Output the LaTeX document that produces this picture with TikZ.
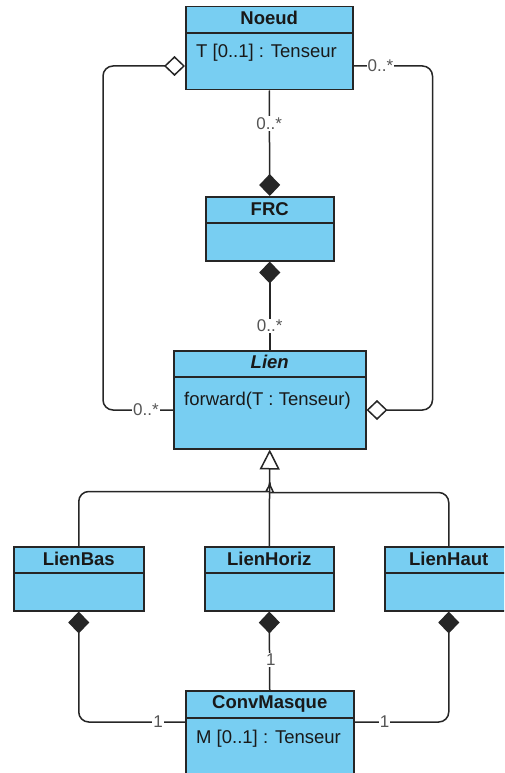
\documentclass[tikz,border=0pt]{standalone}
\usepackage{fontspec}
\setmainfont{Liberation Sans}
\usetikzlibrary{arrows.meta,calc}
\definecolor{clsfill}{RGB}{120,206,242}
\definecolor{clsline}{RGB}{38,38,38}
\definecolor{lbl}{RGB}{85,85,85}
\definecolor{txt}{RGB}{25,25,25}
\tikzset{
  cls/.style={draw=clsline, fill=clsfill, line width=1.5pt, rectangle, inner sep=0pt, anchor=north west},
  divider/.style={draw=clsline, line width=1.5pt},
  hdr/.style={font=\fontsize{18.5}{22}\selectfont\bfseries, text=txt, inner sep=0pt, anchor=base},
  attr/.style={font=\fontsize{18.5}{22}\selectfont, text=txt, inner sep=0pt, anchor=base west},
  conn/.style={draw=clsline, line width=1.5pt},
  mult/.style={font=\fontsize{17}{20}\selectfont, text=lbl, fill=white, inner sep=1pt},
  filleddia/.tip={Diamond[length=22pt, width=21pt]},
  opendia/.tip={Diamond[open, length=21pt, width=20pt]},
  gentri/.tip={Triangle[open, length=20pt, width=20pt]},
}
\begin{document}
\begin{tikzpicture}[x=1pt, y=-1pt]
\useasboundingbox (0,0) rectangle (504,773);
\clip (0,0) rectangle (504,773);

% classes
\node[cls, minimum width=167pt, minimum height=83pt] (noeud) at (185,6) {};
\node[cls, minimum width=128pt, minimum height=64pt] (frc) at (205,196) {};
\node[cls, minimum width=192pt, minimum height=98pt] (lien) at (173,350) {};
\node[cls, minimum width=130pt, minimum height=64pt] (lienbas) at (13,546) {};
\node[cls, minimum width=129pt, minimum height=64pt] (lienhoriz) at (204,546) {};
\node[cls, minimum width=128pt, minimum height=64pt] (lienhaut) at (384,546) {};
\node[cls, minimum width=168pt, minimum height=110pt] (conv) at (185,690) {};

% dividers
\foreach \c/\d in {noeud/27, frc/27, lien/27, lienbas/27, lienhoriz/27, lienhaut/27, conv/28}{
  \draw[divider] ($(\c.north west)+(0,\d)$) -- ($(\c.north east)+(0,\d)$);
}

% headers
\node[hdr] (noeudT) at ($(noeud.north)+(0,19)$) {Noeud};
\node[hdr] (frcT) at ($(frc.north)+(0,19)$) {FRC};
\node[hdr] (lienT) at ($(lien.north)+(0,18.5)$) {\itshape Lien};
\node[hdr] (lienbasT) at ($(lienbas.north)+(0,19)$) {LienBas};
\node[hdr] (lienhorizT) at ($(lienhoriz.north)+(0,19)$) {LienHoriz};
\node[hdr] (lienhautT) at ($(lienhaut.north)+(0,19)$) {LienHaut};
\node[hdr] (convT) at ($(conv.north)+(0,18.5)$) {ConvMasque};

% attributes / operations
\node[attr] (noeudA) at ($(noeud.north west)+(11,52)$) {T [0..1] : Tenseur};
\node[attr] (lienA) at ($(lien.north west)+(11,55)$) {forward(T : Tenseur)};
\node[attr] (convA) at ($(conv.north west)+(11,53)$) {M [0..1] : Tenseur};

% Noeud -- FRC (composition)
\draw[conn, -{filleddia}] (noeud.south) -- (frc.north);
\node[mult] (m1) at ($(noeud.south)+(0,33)$) {0..*};

% FRC -- Lien (composition)
\draw[conn, {filleddia}-] (frc.south) -- (lien.north);
\node[mult] (m2) at ($(lien.north)+(0,-24)$) {0..*};

% Noeud -- Lien left (aggregation at Noeud)
\coordinate (nL) at ($(noeud.north west)+(0,60)$);
\coordinate (lL) at ($(lien.north west)+(0,60)$);
\draw[conn, {opendia}-, rounded corners=10pt] (nL) -| ($(lL)+(-70,0)$) -- (lL);
\node[mult] (m3) at ($(lL)+(-27,0)$) {0..*};

% Noeud -- Lien right (aggregation at Lien)
\coordinate (nR) at ($(noeud.north east)+(0,60)$);
\coordinate (lR) at ($(lien.north east)+(0,60)$);
\draw[conn, -{opendia}, rounded corners=10pt] (nR) -| ($(lR)+(66,0)$) -- (lR);
\node[mult] (m4) at ($(nR)+(27,0)$) {0..*};

% generalization
\draw[conn, -{gentri}] (lienhoriz.north) -- (lien.south);
\coordinate (gen) at ($(lien.south)+(0,33)$);
\draw[conn, rounded corners=10pt] (lienbas.north) |- ($(gen)+(-12,9)$) to[out=0, in=-90] (gen);
\draw[conn, rounded corners=10pt] (lienhaut.north) |- ($(gen)+(12,10)$) to[out=180, in=-90] (gen);

% compositions to ConvMasque
\coordinate (cL) at ($(conv.north west)+(0,32)$);
\coordinate (cR) at ($(conv.north east)+(0,32)$);
\draw[conn, {filleddia}-, rounded corners=10pt] (lienbas.south) |- (cL);
\node[mult] (m5) at ($(cL)+(-27,0)$) {1};
\draw[conn, {filleddia}-] (lienhoriz.south) -- (conv.north);
\node[mult] (m6) at ($(conv.north)+(1,-30)$) {1};
\draw[conn, {filleddia}-, rounded corners=10pt] (lienhaut.south) |- (cR);
\node[mult] (m7) at ($(cR)+(30,0)$) {1};
\end{tikzpicture}
\end{document}
